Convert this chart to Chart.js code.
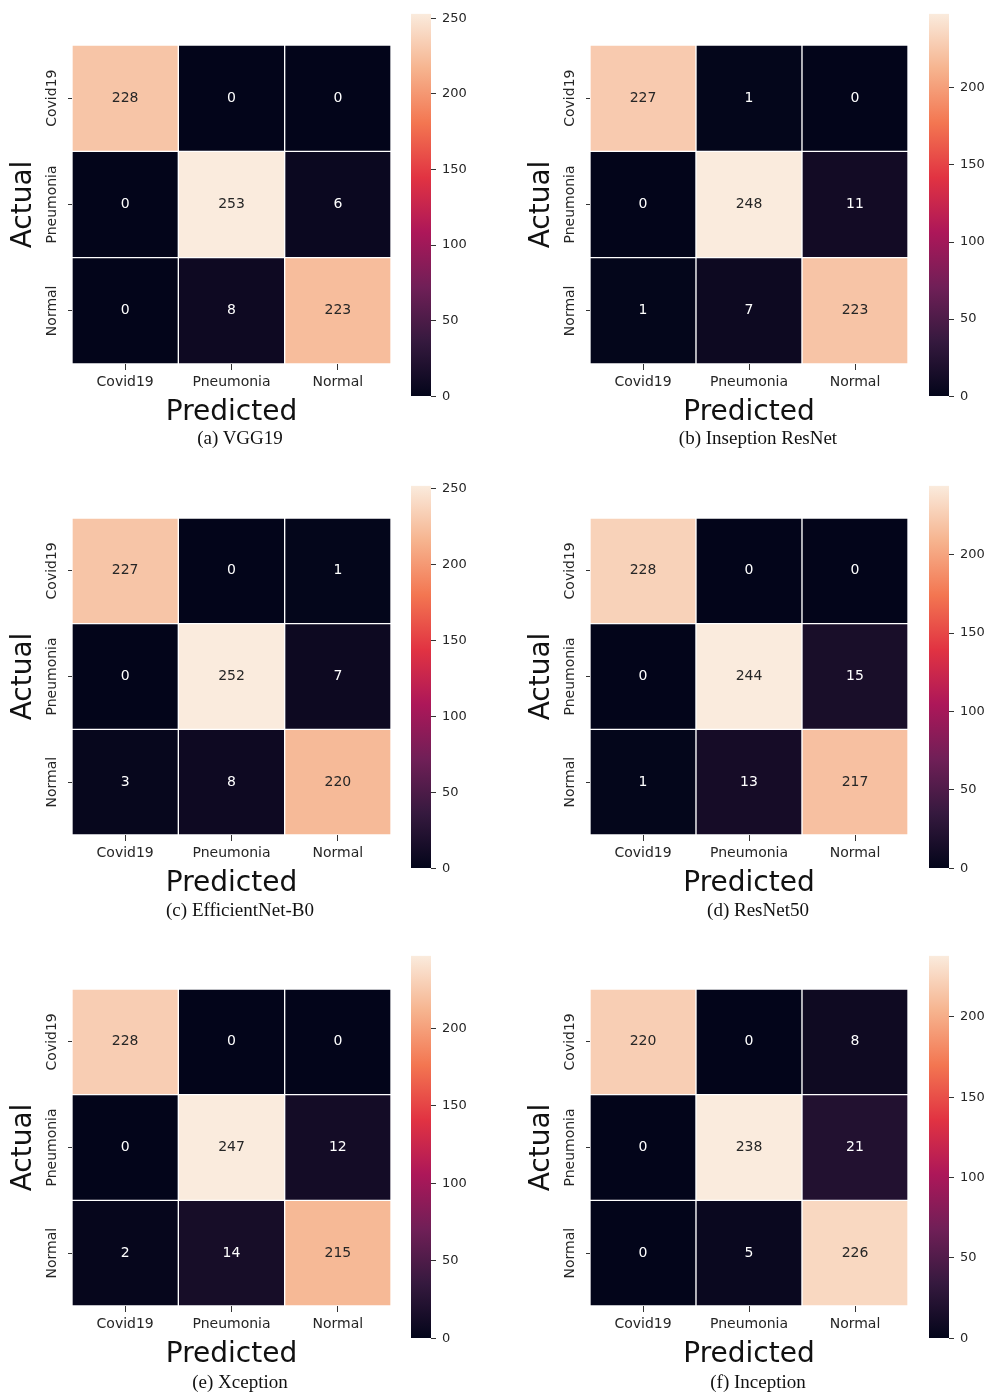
<!DOCTYPE html>
<html>
<head>
<meta charset="utf-8">
<script src="https://cdn.jsdelivr.net/npm/chart.js@4.4.1/dist/chart.umd.min.js"></script>
<style>
  html, body { margin: 0; padding: 0; background: #fff; }
  body { width: 987px; height: 1396px; position: relative; overflow: hidden; }
  canvas { position: absolute; }
  .cap { position: absolute; width: 400px; text-align: center; font-family: "Liberation Serif", "Times New Roman", serif; font-size: 19px; color: #111; line-height: 22px; }
</style>
</head>
<body>
<script>
// ---------------- data ----------------
const classLabels = ['Covid19', 'Pneumonia', 'Normal'];
const captions = ['(a) VGG19', '(b) Inseption ResNet', '(c) EfficientNet-B0', '(d) ResNet50', '(e) Xception', '(f) Inception'];
const vgg19 = [[228, 0, 0], [0, 253, 6], [0, 8, 223]];
const inseptionResNet = [[227, 1, 0], [0, 248, 11], [1, 7, 223]];
const efficientNetB0 = [[227, 0, 1], [0, 252, 7], [3, 8, 220]];
const resNet50 = [[228, 0, 0], [0, 244, 15], [1, 13, 217]];
const xception = [[228, 0, 0], [0, 247, 12], [2, 14, 215]];
const inception = [[220, 0, 8], [0, 238, 21], [0, 5, 226]];
const colorbarStep = 50;

const matrices = [vgg19, inseptionResNet, efficientNetB0, resNet50, xception, inception];

// ---------------- colormap (seaborn "rocket") ----------------
const rocketStops = [
  [0.0, [3, 5, 26]],
  [1 / 7, [53, 25, 62]],
  [2 / 7, [112, 31, 87]],
  [3 / 7, [173, 23, 89]],
  [4 / 7, [225, 51, 66]],
  [5 / 7, [243, 118, 81]],
  [6 / 7, [246, 180, 143]],
  [1.0, [250, 235, 221]]
];
function rocketRGB(t) {
  t = Math.max(0, Math.min(1, t));
  for (let k = 1; k < rocketStops.length; k++) {
    const [p1, c1] = rocketStops[k];
    const [p0, c0] = rocketStops[k - 1];
    if (t <= p1) {
      const f = (t - p0) / (p1 - p0);
      return c0.map((v, i) => Math.round(v + (c1[i] - v) * f));
    }
  }
  return rocketStops[rocketStops.length - 1][1];
}
function rocket(t) { const c = rocketRGB(t); return `rgb(${c[0]},${c[1]},${c[2]})`; }

// ---------------- layout ----------------
const colX = [{ canvasLeft: 0, padRight: 9, cbLeft: 404, cbWidth: 90 }, { canvasLeft: 518, padRight: 10, cbLeft: 922, cbWidth: 65 }];
const rowY = [{ top: 45, bottom: 364, cbTop: 10, capY: 427 }, { top: 518, bottom: 835, cbTop: 482, capY: 899 }, { top: 989, bottom: 1306, cbTop: 952, capY: 1371 }];

const FONT = '"DejaVu Sans", "Noto Sans", sans-serif';
const TXT = '#262626';

function makeCanvas(left, top, w, h) {
  const c = document.createElement('canvas');
  c.style.left = left + 'px'; c.style.top = top + 'px';
  c.style.width = w + 'px'; c.style.height = h + 'px';
  c.width = w; c.height = h;
  document.body.appendChild(c);
  return c;
}

const annotatePlugin = {
  id: 'annotate',
  afterDatasetsDraw(chart) {
    const m = chart.options.plugins.annotate.matrix;
    const vmax = chart.options.plugins.annotate.vmax;
    const xs = chart.scales.x, ys = chart.scales.y;
    const ctx = chart.ctx;
    ctx.save();
    ctx.font = '14px ' + FONT;
    ctx.textAlign = 'center';
    ctx.textBaseline = 'middle';
    for (let i = 0; i < m.length; i++) {
      for (let j = 0; j < m[i].length; j++) {
        const c = rocketRGB(m[i][j] / vmax);
        const lum = (0.299 * c[0] + 0.587 * c[1] + 0.114 * c[2]) / 255;
        ctx.fillStyle = lum > 0.5 ? TXT : '#ffffff';
        ctx.fillText(String(m[i][j]), xs.getPixelForValue(j), ys.getPixelForValue(i + 0.5));
      }
    }
    // rotated y tick labels
    ctx.fillStyle = TXT;
    for (let i = 0; i < classLabels.length; i++) {
      ctx.save();
      ctx.translate(chart.chartArea.left - 20, ys.getPixelForValue(i + 0.5));
      ctx.rotate(-Math.PI / 2);
      ctx.fillText(classLabels[i], 0, 0);
      ctx.restore();
    }
    ctx.restore();
  }
};

matrices.forEach((m, idx) => {
  const col = colX[idx % 2], row = rowY[Math.floor(idx / 2)];
  const vmax = Math.max(...m.flat());
  const cTop = row.top - 10, cH = (row.bottom + 66) - cTop;
  const cv = makeCanvas(col.canvasLeft, cTop, 400, cH);

  const datasets = m.map((rowVals, i) => ({
    data: rowVals.map(() => [i, i + 1]),
    backgroundColor: rowVals.map(v => rocket(v / vmax)),
    borderColor: '#ffffff',
    borderWidth: 1,
    borderSkipped: false,
    grouped: false,
    barPercentage: 1,
    categoryPercentage: 1
  }));

  new Chart(cv, {
    type: 'bar',
    data: { labels: classLabels, datasets },
    options: {
      responsive: false, animation: false, devicePixelRatio: 1,
      layout: { padding: { top: 10, right: col.padRight, left: 0, bottom: 0 } },
      plugins: { legend: { display: false }, tooltip: { enabled: false }, annotate: { matrix: m, vmax } },
      scales: {
        x: {
          type: 'category', offset: true,
          grid: { display: true, offset: false, drawOnChartArea: false, drawTicks: true, tickLength: 6, color: '#333' },
          border: { display: false },
          ticks: { color: TXT, font: { family: FONT, size: 14 }, padding: 4, maxRotation: 0, minRotation: 0 },
          title: { display: true, text: 'Predicted', color: '#111', font: { family: FONT, size: 28 }, padding: { top: 6, bottom: 0 } },
          afterFit(s) { s.height = 66; }
        },
        y: {
          type: 'linear', min: 0, max: 3, reverse: true,
          afterBuildTicks(s) { s.ticks = [0.5, 1.5, 2.5].map(v => ({ value: v })); },
          grid: { display: true, drawOnChartArea: false, drawTicks: true, tickLength: 4, color: '#333' },
          border: { display: false },
          ticks: { display: false },
          title: { display: true, text: 'Actual', color: '#111', font: { family: FONT, size: 28 }, padding: { top: 7, bottom: 0 } },
          afterFit(s) { s.width = 72; }
        }
      }
    },
    plugins: [annotatePlugin]
  });

  // colorbar
  const cb = makeCanvas(col.cbLeft, row.cbTop - 10, col.cbWidth, 410);
  new Chart(cb, {
    type: 'bar',
    data: {
      labels: [''],
      datasets: [{
        data: [[0, vmax]],
        backgroundColor(ctx) {
          const area = ctx.chart.chartArea;
          if (!area) return '#000';
          const g = ctx.chart.ctx.createLinearGradient(0, area.bottom, 0, area.top);
          rocketStops.forEach(([p, c]) => g.addColorStop(p, `rgb(${c[0]},${c[1]},${c[2]})`));
          return g;
        },
        borderWidth: 0, barPercentage: 1, categoryPercentage: 1
      }]
    },
    options: {
      responsive: false, animation: false, devicePixelRatio: 1,
      layout: { padding: { top: 10, bottom: 10, left: 7, right: 0 } },
      plugins: { legend: { display: false }, tooltip: { enabled: false } },
      scales: {
        x: { display: false },
        y: {
          position: 'right', min: 0, max: vmax,
          afterBuildTicks(s) {
            const t = [];
            for (let v = 0; v <= vmax; v += colorbarStep) t.push({ value: v });
            s.ticks = t;
          },
          grid: { display: true, drawOnChartArea: false, drawTicks: true, tickLength: 5, color: '#333' },
          border: { display: false },
          ticks: { color: TXT, font: { family: FONT, size: 13 }, padding: 6 },
          afterFit(s) { s.width = col.cbWidth - 7 - 20; }
        }
      }
    }
  });

  const cap = document.createElement('div');
  cap.className = 'cap';
  cap.textContent = captions[idx];
  cap.style.left = (idx % 2 === 0 ? 40 : 558) + 'px';
  cap.style.top = row.capY + 'px';
  document.body.appendChild(cap);
});
</script>
</body>
</html>
